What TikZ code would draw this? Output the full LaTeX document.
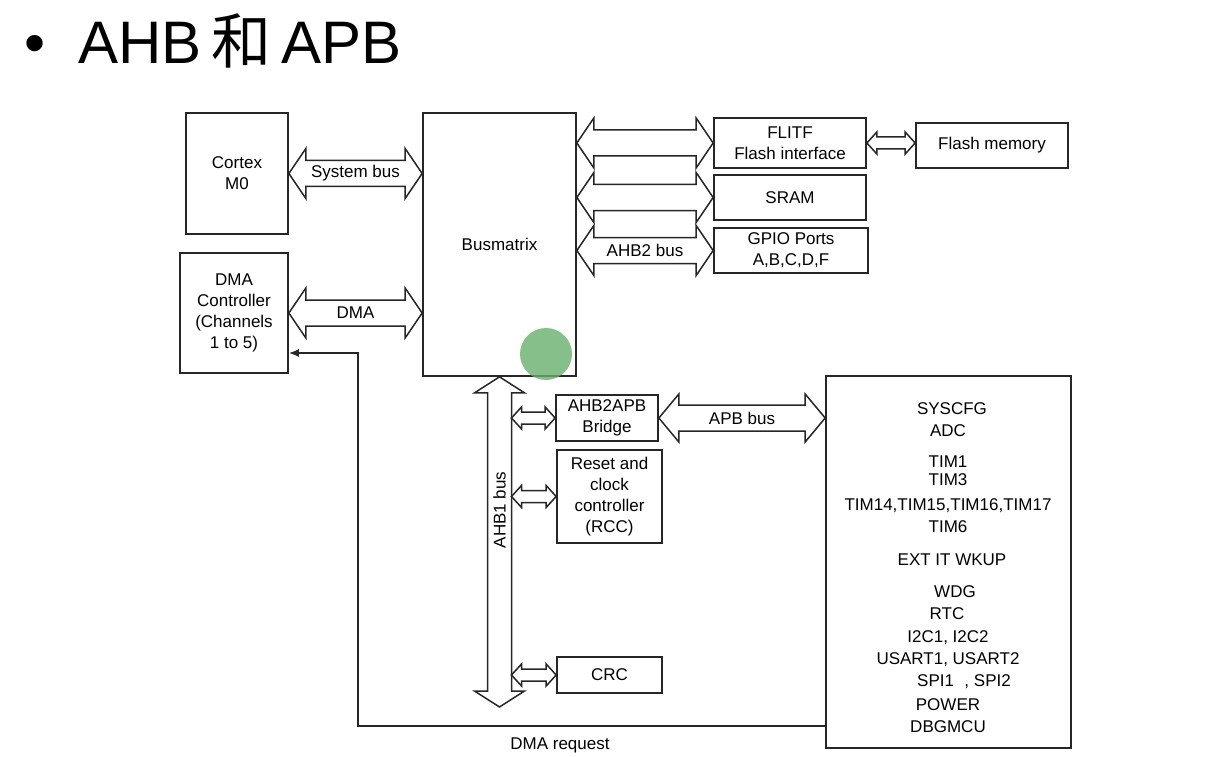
\documentclass[tikz,border=0pt]{standalone}
\usepackage{fontspec}
\setmainfont{Liberation Sans}
\newfontfamily\cjk{Noto Sans CJK SC}
\usetikzlibrary{calc,arrows.meta}

\definecolor{hl}{RGB}{105,175,110}

\tikzset{
  blk/.style={draw=black!85, line width=1.7pt, align=center, inner sep=0pt, font=\fontsize{17}{21}\selectfont},
  busline/.style={draw=black!85, line width=1.5pt, line join=miter},
  lbl/.style={font=\fontsize{17}{21}\selectfont, inner sep=0pt},
  reqline/.style={draw=black!85, line width=1.6pt, -{Latex[length=10pt,width=8pt]}},
}

% bus horizontal : depart, arrivee, demi-corps, demi-tete, longueur tete
\newcommand{\hbus}[5]{%
  \path[busline] let \p1=#1, \p2=#2 in
    (\x1,\y1) -- ({\x1+#5pt},{\y1+#4pt}) -- ({\x1+#5pt},{\y1+#3pt}) -- ({\x2-#5pt},{\y1+#3pt})
    -- ({\x2-#5pt},{\y1+#4pt}) -- (\x2,\y1) -- ({\x2-#5pt},{\y1-#4pt}) -- ({\x2-#5pt},{\y1-#3pt})
    -- ({\x1+#5pt},{\y1-#3pt}) -- ({\x1+#5pt},{\y1-#4pt}) -- cycle;}
% bus vertical : haut, bas, demi-corps, demi-tete, longueur tete
\newcommand{\vbus}[5]{%
  \path[busline] let \p1=#1, \p2=#2 in
    (\x1,\y1) -- ({\x1+#4pt},{\y1-#5pt}) -- ({\x1+#3pt},{\y1-#5pt}) -- ({\x1+#3pt},{\y2+#5pt})
    -- ({\x1+#4pt},{\y2+#5pt}) -- (\x1,\y2) -- ({\x1-#4pt},{\y2+#5pt}) -- ({\x1-#3pt},{\y2+#5pt})
    -- ({\x1-#3pt},{\y1-#5pt}) -- ({\x1-#4pt},{\y1-#5pt}) -- cycle;}

\begin{document}
\begin{tikzpicture}[x=1pt,y=-1pt]
\useasboundingbox (0,0) rectangle (1224,757);

% Titre
\node (bul) [anchor=base west, inner sep=0pt, font=\fontsize{60}{70}\selectfont] at (24,64) {•};
\node (title) [anchor=base west, inner sep=0pt, font=\fontsize{60}{70}\selectfont] at (78,64) {AHB\,{\cjk 和}\,APB};

% Blocs
\node (cm) [blk, minimum width=102, minimum height=121] at (237,173.5) {Cortex\\M0};
\node (dma) [blk, minimum width=108, minimum height=120] at (234,313) {DMA\\Controller\\(Channels\\1 to 5)};
\node (bm) [blk, minimum width=153, minimum height=263] at (499.5,244.5) {Busmatrix};
\node (flitf) [blk, minimum width=152, minimum height=50] at (790,143) {FLITF\\Flash interface};
\node (fmem) [blk, minimum width=152, minimum height=45] at (992,145.5) {Flash memory};
\node (sram) [blk, minimum width=152, minimum height=45] at (790,197.5) {SRAM};
\node (gpio) [blk, minimum width=154, minimum height=45] at (791,250.5) {GPIO Ports\\A,B,C,D,F};
\node (bridge) [blk, minimum width=102, minimum height=46] at (607,418) {AHB2APB\\Bridge};
\node (rcc) [blk, minimum width=105, minimum height=93] at (609.5,496.5) {Reset and\\clock\\controller\\(RCC)};
\node (crc) [blk, minimum width=105, minimum height=36] at (609.5,675) {CRC};
\node (apb) [blk, minimum width=245, minimum height=372] at (948.5,562) {};

% Peripheriques APB
\foreach \t/\y/\x [count=\i] in {SYSCFG/409/952, ADC/431/948, TIM1/462/948, TIM3/480/948,
    {TIM14,TIM15,TIM16,TIM17}/506/948, TIM6/527/948, EXT IT WKUP/560/952, WDG/592/955,
    RTC/614/947, {I2C1, I2C2}/638/948, {USART1, USART2}/660/948, {SPI1\,\, , SPI2}/682/964,
    POWER/705/948, DBGMCU/727/948}
  \node (per\i) [lbl] at (\x,\y) {\t};

% Bus
\hbus{(cm.east)}{(bm.west |- cm.east)}{13}{25}{17}
\node (sysbus) [lbl] at ($(cm.east)!0.5!(bm.west |- cm.east)$) {System bus};
\hbus{(dma.east)}{(bm.west |- dma.east)}{13}{25}{17}
\node (dmabus) [lbl] at ($(dma.east)!0.5!(bm.west |- dma.east)$) {DMA};
\hbus{(bm.east |- flitf.west)}{(flitf.west)}{13}{25}{17}
\hbus{(bm.east |- sram.west)}{(sram.west)}{13}{25}{17}
\hbus{(bm.east |- gpio.west)}{(gpio.west)}{13}{25}{17}
\node (ahb2) [lbl] at ($(bm.east |- gpio.west)!0.5!(gpio.west)$) {AHB2 bus};
\hbus{(flitf.east)}{(fmem.west |- flitf.east)}{6}{11}{10}

% AHB1
\coordinate (ahbend) at (499.5,707);
\vbus{(bm.south)}{(ahbend)}{12}{25}{16}
\node (ahb1) [lbl, rotate=90] at (499.5,510) {AHB1 bus};
\hbus{([xshift=12pt]bm.south |- bridge.west)}{(bridge.west)}{6}{11}{10}
\hbus{([xshift=12pt]bm.south |- rcc.west)}{(rcc.west)}{6}{11}{10}
\hbus{([xshift=12pt]bm.south |- crc.west)}{(crc.west)}{6}{11}{10}

% APB
\hbus{(bridge.east)}{(apb.west |- bridge.east)}{13}{24}{20}
\node (apbbus) [lbl] at ($(bridge.east)!0.5!(apb.west |- bridge.east)$) {APB bus};

% Requete DMA
\coordinate (reqa) at (apb.west |- 0,726);
\coordinate (bend) at (358,726);
\coordinate (reqin) at ([yshift=-40pt]dma.east);
\draw[reqline] (reqa) -- (bend) |- (reqin);
\node (reqlbl) [lbl] at (560,745) {DMA request};

% Pointeur
\fill[hl, opacity=0.8] (546,354) circle (26pt);
\end{tikzpicture}
\end{document}
